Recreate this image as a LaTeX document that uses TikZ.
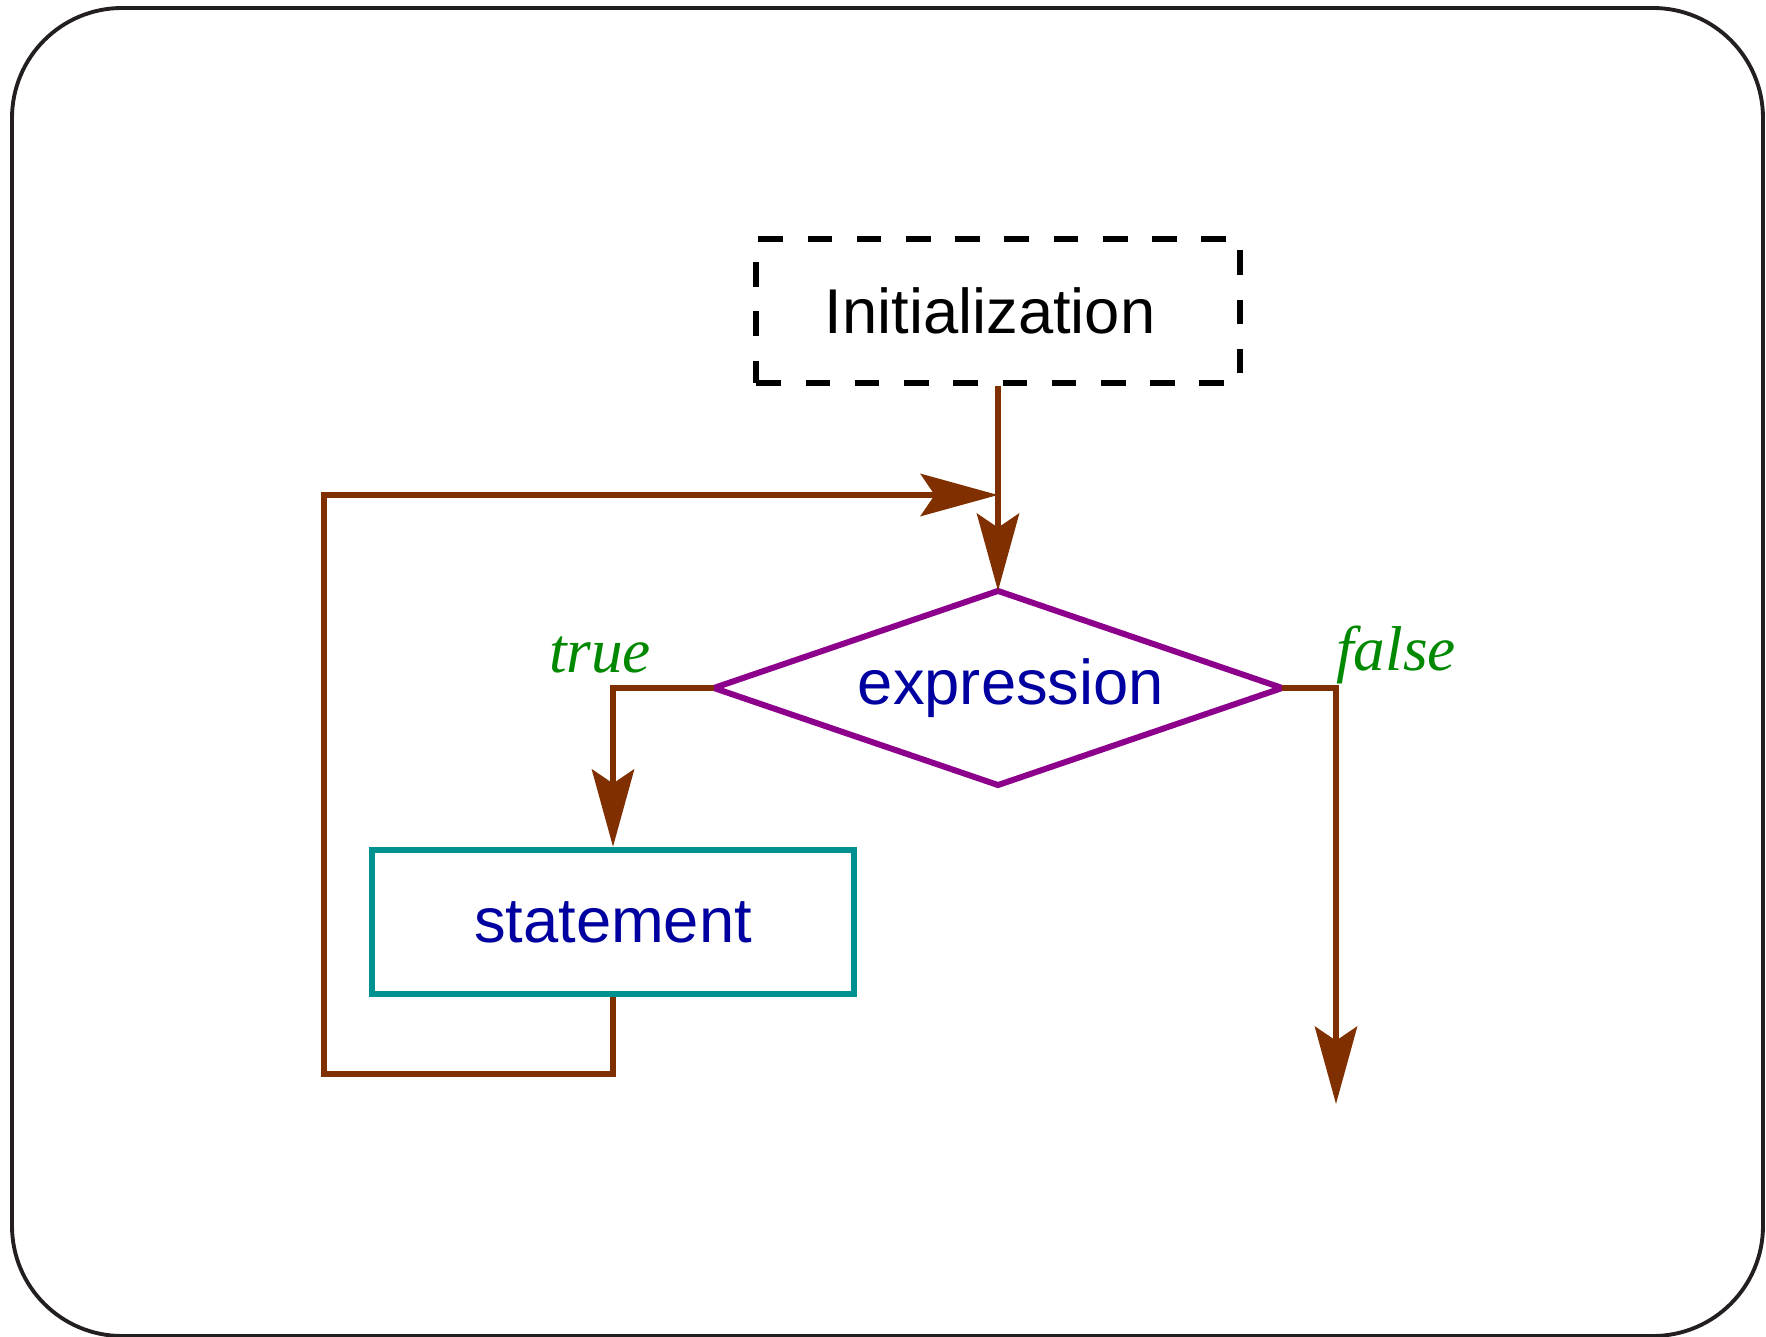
\documentclass[tikz,border=0pt]{standalone}
\usepackage{fontspec}
\setmainfont{Liberation Sans}
\newfontfamily\labelfont{Liberation Serif}
\usepackage{tikz}
\usetikzlibrary{arrows.meta}
\usetikzlibrary{shapes.geometric}
\usetikzlibrary{positioning}

\definecolor{flowbrown}{RGB}{128,48,0}
\definecolor{condpurple}{RGB}{140,0,140}
\definecolor{stmtteal}{RGB}{0,145,145}
\definecolor{textblue}{RGB}{0,0,160}
\definecolor{labelgreen}{RGB}{0,136,0}
\definecolor{framegray}{RGB}{35,31,32}

\begin{document}
\begin{tikzpicture}[line join=miter,x=0.01cm,y=-0.01cm,
  >={Stealth[length=22pt,width=12pt,inset=4pt]},
  every node/.style={font=\fontsize{18}{22}\selectfont},
  initbox/.style={draw=black,line width=1.7pt,dash pattern=on 7pt off 7pt,
    minimum width=4.83cm,minimum height=1.43cm,inner sep=0pt},
  decision/.style={diamond,draw=condpurple,line width=1.7pt,text=textblue,
    shape aspect=2.93,minimum width=5.68cm,minimum height=1.94cm,
    inner sep=0pt,outer sep=0pt},
  stmtbox/.style={draw=stmtteal,line width=1.8pt,text=textblue,
    minimum width=4.82cm,minimum height=1.44cm,inner sep=0pt},
  flow/.style={draw=flowbrown,line width=1.7pt,fill=none},
  branchlabel/.style={text=labelgreen,font=\fontsize{18}{22}\selectfont\labelfont\itshape}]
% Draw region settings
\useasboundingbox (0,0) rectangle (1766,1337);
% Frame
\draw[framegray,line width=1.1pt,rounded corners=1.1cm] (12,8) rectangle (1763,1336);
% Boxes
\node[initbox] (init) at (998,311) {\hspace*{-0.16cm}Initialization};
\node[decision] (cond) at (998,688) {\hspace*{0.26cm}expression};
\node[stmtbox] (stmt) at (613,922) {statement};
\coordinate (join) at (998,495);
\coordinate (loop) at (324,1074);
\coordinate (exit) at (1336,1104);
% Branch labels
\node[branchlabel] (truelbl) at (600,655) {true};
\node[branchlabel] (falselbl) at (1396,655) {false};
% Flow lines
\draw[flow,->] (init.south) -- (cond.north);
\draw[flow,->] (stmt.south) |- (loop) |- (join);
\draw[flow,->] (cond.west) -| (stmt.north);
\draw[flow,->] (cond.east) -| (exit);
\end{tikzpicture}
\end{document}
